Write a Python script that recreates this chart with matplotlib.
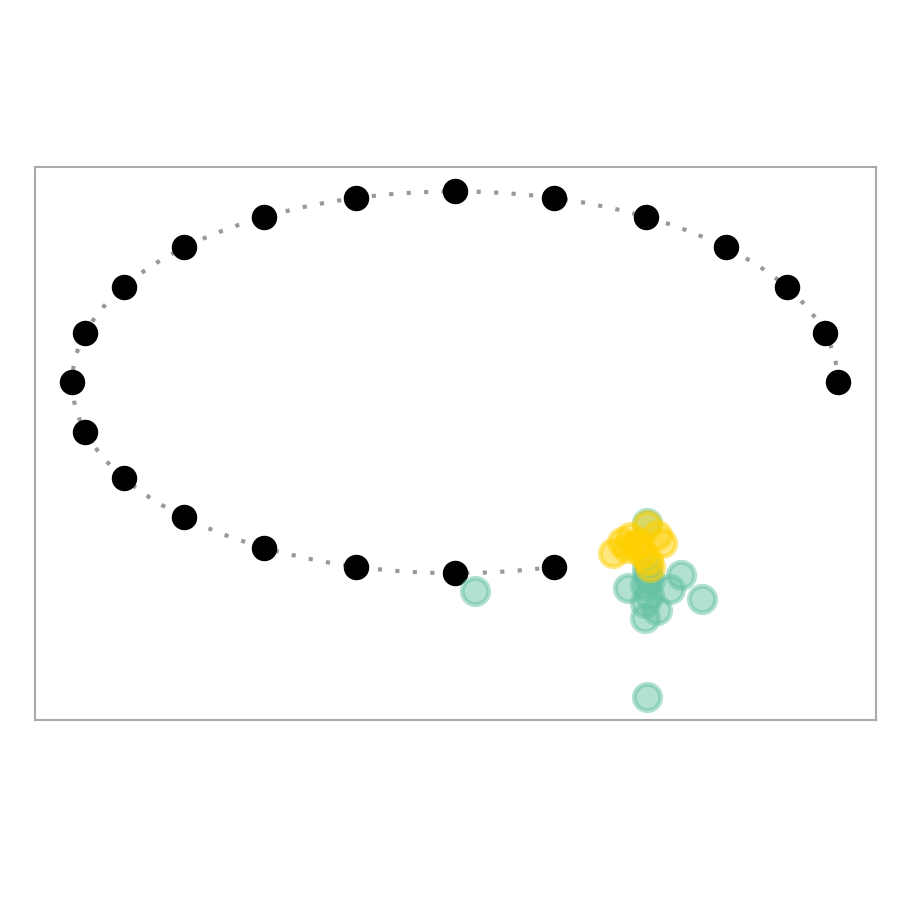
import numpy as np
import matplotlib
matplotlib.use("Agg")
from matplotlib import pyplot as plt
from matplotlib.patches import Arc

# angles (degrees) of the black reference points on the ellipse
angulos = [0, 15, 30, 45, 60, 75, 90, 105, 120, 135,
           150, 165, 180, 195, 210, 225, 240, 255, 270, 285]

# green group
verde_x = [0.501, 0.501, 0.645, 0.590, 0.561, 0.452, 0.496, 0.527,
           0.501, 0.501, 0.496, 0.507, 0.496, 0.509, 0.052]
verde_y = [-0.738, -1.649, -1.136, -1.010, -1.084, -1.079, -1.236, -1.194,
           -0.969, -1.010, -1.063, -1.115, -1.157, -1.037, -1.094]

# yellow group
amarelo_x = [0.413, 0.436, 0.457, 0.501, 0.540, 0.527, 0.470, 0.449,
             0.509, 0.504, 0.488, 0.480]
amarelo_y = [-0.895, -0.838, -0.812, -0.749, -0.843, -0.801, -0.853, -0.869,
             -0.969, -0.932, -0.895, -0.843]

fig = plt.figure(figsize=(9, 9), dpi=100)
ax = fig.add_axes([0.039, 0.2, 0.934, 0.614])

# dotted guide ellipse
arco = Arc((0, 0), 2, 2, theta1=0, theta2=285, color="#999999",
           lw=3, linestyle=(0, (1, 3.2)), zorder=1)
ax.add_patch(arco)

rad = np.radians(angulos)
ax.scatter(np.cos(rad), np.sin(rad), s=300, color="black", zorder=3)

ax.scatter(verde_x, verde_y, s=360, color="#66c2a5", alpha=0.5,
           linewidths=3.5, zorder=4)
ax.scatter(amarelo_x, amarelo_y, s=360, color="#ffd000", alpha=0.5,
           linewidths=3.5, zorder=5)

ax.set_xlim(-1.097, 1.099)
ax.set_ylim(-1.769, 1.126)
ax.set_xticks([])
ax.set_yticks([])
for lado in ax.spines.values():
    lado.set_color("#aaaaaa")
    lado.set_linewidth(1.5)

fig.savefig("out.png", dpi=100)
